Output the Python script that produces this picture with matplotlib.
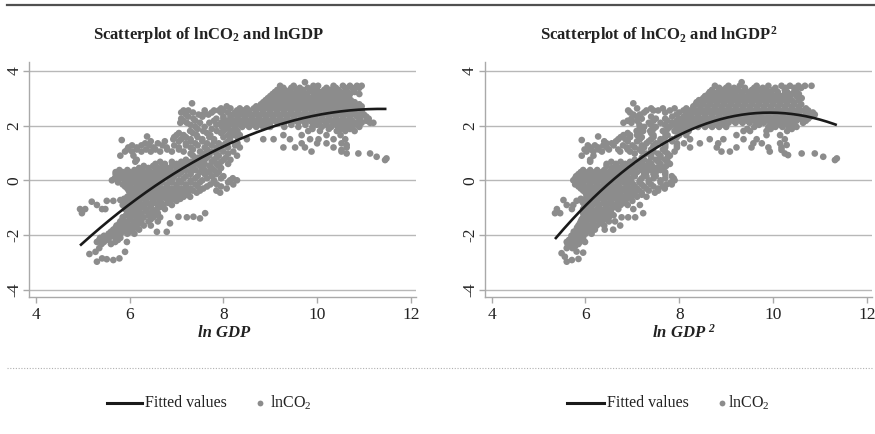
import matplotlib
matplotlib.use("Agg")
import matplotlib.pyplot as plt
from matplotlib.lines import Line2D
import numpy as np

plt.rcParams['font.family'] = ['Liberation Serif', 'DejaVu Serif']
plt.rcParams['axes.unicode_minus'] = False

# ---------------------------------------------------------------------------
# Observations: lnCO2 bands and the lnGDP positions of the points in each band
# ---------------------------------------------------------------------------
co2_levels = [3.45, 3.30, 3.15, 3.00, 2.85, 2.70, 2.55, 2.40, 2.25, 2.10, 1.95,
              1.80, 1.65, 1.50, 1.35, 1.20, 1.05, 0.90, 0.75, 0.60, 0.45, 0.30,
              0.15, 0.00, -0.15, -0.30, -0.45, -0.60, -0.75, -0.90, -1.05,
              -1.20, -1.35, -1.50, -1.65, -1.80, -1.95, -2.10, -2.25, -2.40]

gdp_left = [
    [9.21, 9.50, 9.92, 10.02, 10.35, 10.55, 10.70, 10.85, 10.95],
    [9.15, 9.30, 9.42, 9.56, 9.70, 9.85, 10.00, 10.15, 10.28, 10.45, 10.62, 10.78],
    [9.05, 9.18, 9.33, 9.47, 9.62, 9.78, 9.95, 10.10, 10.25, 10.40, 10.55, 10.70, 10.90],
    [8.95, 9.10, 9.25, 9.40, 9.55, 9.70, 9.85, 10.00, 10.15, 10.30, 10.45, 10.60],
    [8.85, 9.00, 9.15, 9.30, 9.45, 9.60, 9.75, 9.90, 10.05, 10.20, 10.35, 10.50, 10.65, 10.80],
    [8.07, 8.70, 8.85, 9.00, 9.15, 9.30, 9.45, 9.60, 9.75, 9.90, 10.05, 10.20, 10.35, 10.50,
     10.65, 10.80, 10.95],
    [7.15, 7.25, 7.60, 7.80, 7.90, 8.00, 8.29, 8.43, 8.55, 8.70, 8.85, 9.00, 9.15, 9.30, 9.45,
     9.60, 9.75, 9.90, 10.05, 10.20, 10.35, 10.50, 10.65, 10.80, 10.95],
    [7.20, 7.47, 7.57, 7.68, 8.21, 8.35, 8.50, 8.65, 8.80, 8.95, 9.10, 9.25, 9.40, 9.55, 9.70,
     9.85, 10.00, 10.15, 10.30, 10.45, 10.60, 10.75, 10.90, 11.00],
    [7.10, 7.36, 7.85, 8.00, 8.15, 8.30, 8.45, 8.60, 8.75, 8.90, 9.05, 9.20, 9.35, 9.50, 9.65,
     9.80, 9.95, 10.10, 10.25, 10.40, 10.55, 10.70, 10.92, 11.10],
    [7.08, 7.22, 7.50, 7.70, 7.95, 8.10, 8.25, 8.40, 8.55, 8.70, 8.85, 9.00, 9.15, 9.30, 9.45,
     9.60, 9.75, 9.90, 10.05, 10.20, 10.35, 10.50, 10.65, 10.80, 10.95, 11.13, 11.20],
    [7.40, 7.60, 7.97, 8.10, 8.25, 8.40, 8.55, 8.70, 8.85, 9.00, 9.30, 9.60, 9.90, 10.10, 10.30,
     10.45, 10.60, 10.75, 10.90],
    [7.29, 7.57, 7.86, 8.00, 8.15, 8.30, 9.81, 10.06, 10.42, 10.60, 10.80],
    [7.00, 7.15, 7.43, 7.72, 8.10, 8.20, 8.35, 9.28, 9.67, 10.20, 10.50],
    [6.93, 7.10, 7.30, 7.55, 7.80, 8.14, 8.50, 8.85, 9.07, 9.42, 9.85, 10.03, 10.35, 10.60],
    [6.33, 6.60, 7.20, 7.40, 7.65, 7.90, 8.05, 8.30, 9.67, 10.00, 10.20, 10.52],
    [5.97, 6.15, 6.51, 6.79, 7.05, 7.30, 7.60, 7.85, 8.10, 8.35, 9.28, 9.53, 9.74, 10.35, 10.63],
    [5.90, 6.05, 6.25, 6.45, 6.65, 6.90, 7.15, 7.50, 7.75, 8.00, 8.21, 9.88, 10.52],
    [5.80, 6.08, 7.35, 7.55, 7.70, 7.90, 8.29],
    [6.15, 7.20, 7.40, 7.60, 7.80, 8.00, 8.15],
    [6.55, 6.75, 7.00, 7.20, 7.40, 7.60, 7.85, 8.10],
    [6.20, 6.40, 6.60, 6.80, 7.00, 7.15, 7.35, 7.55, 7.75, 7.95],
    [5.70, 5.85, 6.00, 6.15, 6.30, 6.45, 6.60, 6.75, 6.90, 7.10, 7.30, 7.50, 7.70, 7.90],
    [5.75, 5.90, 6.05, 6.20, 6.35, 6.50, 6.65, 6.80, 6.95, 7.20, 7.45, 7.75, 8.00],
    [5.62, 5.75, 5.90, 6.05, 6.20, 6.35, 6.50, 6.65, 6.85, 7.05, 7.30, 7.55, 7.80, 8.14, 8.29],
    [5.85, 6.00, 6.15, 6.30, 6.45, 6.60, 6.80, 7.00, 7.20, 7.40, 7.72, 7.86, 8.21],
    [5.95, 6.10, 6.25, 6.40, 6.55, 6.70, 6.90, 7.10, 7.30, 7.57, 8.07],
    [6.00, 6.15, 6.30, 6.45, 6.60, 6.75, 6.90, 7.05, 7.25, 7.43, 7.93],
    [5.95, 6.10, 6.25, 6.40, 6.55, 6.70, 6.85, 7.00, 7.15, 7.29],
    [5.51, 5.65, 5.90, 6.05, 6.20, 6.35, 6.50, 6.65, 6.86, 7.00],
    [5.30, 5.85, 6.00, 6.15, 6.30, 6.45, 6.60, 6.72, 6.90],
    [4.94, 5.05, 5.41, 5.48, 5.90, 6.05, 6.20, 6.35, 6.58, 6.75],
    [4.98, 5.95, 6.10, 6.25, 6.44, 6.60],
    [5.85, 6.00, 6.15, 6.30, 6.50, 6.65],
    [5.80, 5.95, 6.10, 6.25, 6.40, 6.60],
    [5.72, 5.85, 6.00, 6.15, 6.30, 6.45],
    [5.65, 5.78, 5.90, 6.05, 6.20],
    [5.55, 5.68, 5.80, 5.95, 6.10],
    [5.37, 5.51, 5.69, 5.80],
    [5.30, 5.45, 5.69, 5.94],
    [],
]

gdp_right = [
    [8.76, 9.05, 9.29, 9.65, 9.90, 10.18, 10.36, 10.54, 10.68, 10.82],
    [8.70, 8.94, 9.10, 9.25, 9.40, 9.55, 9.70, 9.85, 10.00, 10.25, 10.50],
    [8.62, 8.76, 8.90, 9.05, 9.20, 9.35, 9.50, 9.65, 9.80, 9.95, 10.10, 10.25, 10.40, 10.55],
    [8.51, 8.65, 8.80, 8.95, 9.10, 9.25, 9.40, 9.55, 9.70, 9.85, 10.00, 10.15, 10.30, 10.61],
    [8.37, 8.50, 8.65, 8.80, 8.95, 9.10, 9.25, 9.40, 9.55, 9.70, 9.85, 10.00, 10.15, 10.30, 10.45],
    [8.30, 8.45, 8.60, 8.75, 8.90, 9.05, 9.20, 9.35, 9.50, 9.65, 9.80, 9.95, 10.10, 10.25,
     10.40, 10.55],
    [6.91, 7.30, 7.45, 7.55, 7.80, 8.09, 8.20, 8.35, 8.50, 8.65, 8.80, 8.95, 9.10, 9.25, 9.40,
     9.55, 9.70, 9.85, 10.00, 10.15, 10.30, 10.45, 10.60, 10.75],
    [7.02, 7.16, 7.94, 8.16, 8.26, 8.40, 8.55, 8.70, 8.85, 9.00, 9.15, 9.30, 9.45, 9.60, 9.75,
     9.90, 10.05, 10.20, 10.35, 10.50, 10.72, 10.89],
    [6.98, 7.20, 7.50, 7.70, 8.00, 8.15, 8.30, 8.45, 8.60, 8.75, 8.90, 9.05, 9.20, 9.35, 9.50,
     9.65, 9.80, 9.95, 10.10, 10.25, 10.40, 10.57, 10.75],
    [6.81, 6.98, 7.35, 7.60, 7.85, 8.00, 8.15, 8.30, 8.45, 8.60, 8.75, 8.90, 9.05, 9.20, 9.35,
     9.50, 9.65, 9.80, 9.95, 10.10, 10.25, 10.40, 10.64],
    [7.25, 7.50, 7.80, 7.95, 8.10, 8.25, 8.40, 8.55, 8.70, 8.85, 9.00, 9.60, 9.90, 10.05, 10.20,
     10.35, 10.50],
    [7.09, 7.23, 7.38, 7.65, 7.90, 8.05, 8.20, 9.37, 9.51, 9.86, 10.30],
    [6.81, 6.95, 7.10, 7.45, 7.75, 8.00, 8.15, 9.22, 9.86, 10.15],
    [6.70, 6.85, 7.16, 7.40, 7.60, 7.85, 8.23, 8.65, 8.94, 9.37, 9.65, 10.25],
    [6.45, 6.56, 7.30, 7.50, 7.70, 7.95, 8.10, 8.44, 8.83, 9.58, 9.76, 10.15],
    [6.10, 6.27, 6.45, 6.88, 7.05, 7.25, 7.45, 7.70, 7.95, 8.23, 8.80, 9.22, 9.54, 9.90, 10.18],
    [6.02, 6.17, 6.35, 6.74, 6.95, 7.20, 7.45, 7.70, 7.90, 8.90, 9.08, 9.93],
    [5.92, 6.17, 7.40, 7.60, 7.80],
    [6.10, 7.05, 7.25, 7.50, 7.70],
    [6.45, 6.65, 6.85, 7.00, 7.20, 7.40, 7.60, 7.80],
    [6.56, 6.74, 6.90, 7.05, 7.20, 7.35, 7.50, 7.66],
    [5.90, 6.05, 6.20, 6.35, 6.50, 6.65, 6.80, 6.95, 7.10, 7.30, 7.50, 7.70],
    [5.80, 5.95, 6.10, 6.27, 6.40, 6.55, 6.70, 6.88, 7.05, 7.30, 7.50, 7.84],
    [5.74, 5.88, 6.02, 6.16, 6.30, 6.45, 6.60, 6.74, 6.90, 7.16, 7.35, 7.60, 7.90],
    [5.78, 5.92, 6.10, 6.25, 6.40, 6.55, 6.70, 6.88, 7.02, 7.20, 7.40, 7.73, 7.84],
    [5.90, 6.05, 6.20, 6.35, 6.50, 6.65, 6.80, 6.95, 7.10, 7.30, 7.55, 7.69],
    [6.00, 6.15, 6.30, 6.45, 6.60, 6.74, 6.90, 7.05, 7.20, 7.48],
    [6.05, 6.20, 6.35, 6.50, 6.65, 6.80, 6.95, 7.10, 7.30],
    [5.81, 5.92, 6.10, 6.25, 6.40, 6.55, 6.70, 6.85, 7.00],
    [5.60, 5.74, 6.00, 6.15, 6.30, 6.45, 6.60, 6.75, 6.90, 7.16],
    [5.39, 5.71, 5.95, 6.10, 6.25, 6.40, 6.55, 6.70, 7.02],
    [5.35, 5.46, 5.95, 6.10, 6.25, 6.40, 6.55, 7.23],
    [5.95, 6.05, 6.20, 6.35, 6.50, 6.77, 6.91, 7.06],
    [5.90, 6.02, 6.17, 6.35, 6.50, 6.63],
    [5.85, 5.95, 6.10, 6.24, 6.40, 6.74],
    [5.81, 5.90, 6.05, 6.20, 6.41, 6.59],
    [5.75, 5.85, 6.00, 6.13],
    [5.71, 5.80, 5.95],
    [5.60, 5.78, 5.88, 5.99],
    [5.63, 5.78],
]

# Observations lying between the bands above
fill_levels = [3.375, 3.225, 3.075, 2.925, 2.775, 2.625, 2.475, 2.325, 2.175, 2.025,
               1.875, 1.725, 1.575, 1.425, 1.275, 1.125, 0.975, 0.825, 0.675, 0.525,
               0.375, 0.225, 0.075, -0.075, -0.225, -0.375, -0.525, -0.675, -0.825,
               -0.975, -1.125, -1.275, -1.425, -1.575, -1.725, -1.875, -2.025, -2.175,
               -2.325, -2.475]

fill_left = [
    [9.28, 9.45, 9.63, 9.80, 9.98, 10.20, 10.40, 10.60, 10.75, 10.90],
    [9.10, 9.25, 9.40, 9.55, 9.70, 9.90, 10.05, 10.20, 10.35, 10.50, 10.65, 10.80],
    [9.00, 9.15, 9.30, 9.45, 9.60, 9.75, 9.92, 10.08, 10.22, 10.38, 10.52, 10.68],
    [8.90, 9.05, 9.20, 9.35, 9.50, 9.65, 9.80, 9.95, 10.10, 10.25, 10.40, 10.55, 10.72],
    [8.80, 8.95, 9.10, 9.25, 9.40, 9.55, 9.70, 9.85, 10.00, 10.15, 10.30, 10.45, 10.60,
     10.75, 10.90],
    [7.95, 8.15, 8.35, 8.50, 8.65, 8.80, 8.95, 9.10, 9.25, 9.40, 9.55, 9.70, 9.85, 10.00,
     10.15, 10.30, 10.45, 10.60, 10.75, 10.90],
    [7.10, 7.35, 7.75, 7.95, 8.10, 8.25, 8.40, 8.55, 8.70, 8.85, 9.00, 9.15, 9.30, 9.45,
     9.60, 9.75, 9.90, 10.05, 10.20, 10.35, 10.50, 10.65, 10.80, 10.95],
    [7.25, 7.55, 8.00, 8.15, 8.30, 8.45, 8.60, 8.75, 8.90, 9.05, 9.20, 9.35, 9.50, 9.65,
     9.80, 9.95, 10.10, 10.25, 10.40, 10.55, 10.70, 10.85, 11.05],
    [7.15, 7.40, 7.80, 8.05, 8.20, 8.35, 8.50, 8.65, 8.80, 8.95, 9.10, 9.25, 9.40, 9.55,
     9.70, 9.85, 10.00, 10.15, 10.30, 10.45, 10.60, 10.75, 10.90, 11.05],
    [7.30, 7.85, 8.05, 8.20, 8.35, 8.50, 8.65, 8.80, 8.95, 9.45, 9.75, 10.00, 10.20, 10.40,
     10.55, 10.70, 10.85],
    [7.45, 7.75, 8.05, 8.25, 9.90, 10.25, 10.50, 10.70],
    [7.05, 7.35, 7.65, 7.95, 8.25],
    [6.95, 7.20, 7.45, 7.70, 8.00, 8.30],
    [6.45, 6.75, 7.05, 7.30, 7.55, 7.80, 8.10],
    [6.05, 6.25, 6.42, 6.70, 6.95, 7.20, 7.45, 7.75, 8.00, 8.25],
    [5.95, 6.15, 6.35, 6.55, 6.80, 7.05, 7.35, 7.65, 7.95],
    [7.30, 7.60, 7.85, 8.10],
    [7.45, 7.65, 7.85, 8.05],
    [6.65, 6.90, 7.10, 7.30, 7.50, 7.75, 7.95],
    [6.30, 6.50, 6.70, 6.90, 7.10, 7.30, 7.50, 7.70, 7.90],
    [5.78, 5.95, 6.10, 6.25, 6.40, 6.55, 6.70, 6.85, 7.00, 7.20, 7.40, 7.60, 7.80],
    [5.70, 5.82, 5.98, 6.12, 6.28, 6.42, 6.58, 6.72, 6.88, 7.05, 7.30, 7.60, 7.85],
    [5.68, 5.82, 5.98, 6.12, 6.28, 6.42, 6.58, 6.72, 6.92, 7.15, 7.40, 7.65, 7.95, 8.20],
    [5.75, 5.92, 6.08, 6.22, 6.38, 6.52, 6.70, 6.90, 7.10, 7.30, 7.50, 7.80, 8.10],
    [5.90, 6.02, 6.18, 6.32, 6.48, 6.62, 6.80, 7.00, 7.20, 7.45, 7.65, 7.95],
    [5.98, 6.08, 6.22, 6.38, 6.52, 6.68, 6.82, 7.00, 7.18, 7.35, 7.50, 7.85],
    [6.05, 6.20, 6.35, 6.50, 6.65, 6.80, 6.95, 7.10, 7.22],
    [5.88, 6.02, 6.18, 6.32, 6.48, 6.62, 6.78, 6.92, 7.08],
    [5.92, 6.08, 6.22, 6.38, 6.52, 6.68, 6.82],
    [5.95, 6.12, 6.28, 6.45, 6.65],
    [6.00, 6.18, 6.35, 6.52],
    [5.92, 6.08, 6.22, 6.40, 6.58],
    [5.85, 6.02, 6.20, 6.45],
    [5.78, 5.92, 6.08, 6.22],
    [5.70, 5.82, 5.98, 6.12],
    [5.60, 5.72, 5.85, 6.00],
    [5.45, 5.60, 5.75],
    [5.35, 5.55, 5.75],
    [5.40, 5.60],
    [5.35],
]

fill_right = [
    [8.85, 9.00, 9.17, 9.40, 9.60, 9.78, 10.05, 10.27, 10.45, 10.60],
    [8.65, 8.82, 8.98, 9.15, 9.32, 9.48, 9.62, 9.78, 9.92, 10.10, 10.30, 10.45],
    [8.55, 8.70, 8.85, 9.00, 9.15, 9.30, 9.45, 9.60, 9.75, 9.90, 10.05, 10.20, 10.35, 10.50],
    [8.42, 8.58, 8.72, 8.88, 9.02, 9.18, 9.32, 9.48, 9.62, 9.78, 9.92, 10.08, 10.22, 10.40,
     10.55],
    [8.35, 8.50, 8.65, 8.80, 8.95, 9.10, 9.25, 9.40, 9.55, 9.70, 9.85, 10.00, 10.15, 10.30,
     10.45, 10.60],
    [7.10, 7.40, 7.65, 7.90, 8.15, 8.30, 8.45, 8.60, 8.75, 8.90, 9.05, 9.20, 9.35, 9.50,
     9.65, 9.80, 9.95, 10.10, 10.25, 10.40, 10.55, 10.70],
    [6.95, 7.25, 7.70, 8.00, 8.15, 8.30, 8.45, 8.60, 8.75, 8.90, 9.05, 9.20, 9.35, 9.50,
     9.65, 9.80, 9.95, 10.10, 10.25, 10.40, 10.55, 10.70, 10.85],
    [7.10, 7.40, 7.85, 8.10, 8.25, 8.40, 8.55, 8.70, 8.85, 9.00, 9.15, 9.30, 9.45, 9.60,
     9.75, 9.90, 10.05, 10.20, 10.35, 10.50, 10.65, 10.80],
    [6.90, 7.10, 7.45, 7.75, 7.95, 8.10, 8.25, 8.40, 8.55, 8.70, 8.85, 9.00, 9.15, 9.30,
     9.45, 9.60, 9.75, 9.90, 10.05, 10.20, 10.35, 10.50, 10.70],
    [7.15, 7.40, 7.70, 7.90, 8.05, 8.20, 8.35, 8.50, 8.65, 8.80, 8.95, 9.70, 10.00, 10.15,
     10.30, 10.45],
    [7.15, 7.45, 7.75, 8.00, 8.15, 9.45, 9.95, 10.40],
    [6.90, 7.15, 7.40, 7.70, 8.00],
    [6.75, 6.95, 7.20, 7.45, 7.70, 7.95],
    [6.40, 6.65, 6.90, 7.10, 7.35, 7.60, 7.85],
    [6.05, 6.20, 6.38, 6.60, 6.80, 7.00, 7.20, 7.45, 7.70, 7.95],
    [5.98, 6.12, 6.28, 6.50, 6.70, 6.90, 7.15, 7.40, 7.65],
    [7.05, 7.30, 7.55, 7.75],
    [7.20, 7.40, 7.60, 7.75],
    [6.55, 6.75, 6.95, 7.15, 7.35, 7.55, 7.75],
    [6.45, 6.65, 6.82, 6.98, 7.12, 7.28, 7.42, 7.58, 7.72],
    [5.95, 6.10, 6.25, 6.40, 6.55, 6.70, 6.85, 7.00, 7.20, 7.40, 7.60],
    [5.85, 5.98, 6.12, 6.28, 6.42, 6.58, 6.72, 6.88, 7.05, 7.25, 7.45, 7.70],
    [5.78, 5.92, 6.06, 6.20, 6.35, 6.50, 6.65, 6.80, 6.98, 7.20, 7.45, 7.70, 7.88],
    [5.80, 5.95, 6.08, 6.22, 6.38, 6.52, 6.68, 6.82, 6.98, 7.15, 7.35, 7.60, 7.82],
    [5.85, 5.98, 6.12, 6.28, 6.42, 6.58, 6.72, 6.88, 7.05, 7.25, 7.45, 7.65],
    [5.95, 6.08, 6.22, 6.38, 6.52, 6.68, 6.82, 6.98, 7.15, 7.35, 7.55],
    [6.02, 6.15, 6.28, 6.42, 6.58, 6.72, 6.88, 7.02, 7.20],
    [5.90, 6.00, 6.12, 6.28, 6.42, 6.58, 6.72, 6.88],
    [5.95, 6.08, 6.22, 6.38, 6.52, 6.68, 6.82],
    [5.98, 6.12, 6.28, 6.45, 6.62],
    [6.00, 6.15, 6.32, 6.48],
    [5.98, 6.12, 6.28, 6.45, 6.60],
    [5.92, 6.08, 6.25, 6.42],
    [5.88, 6.00, 6.15, 6.30],
    [5.82, 5.92, 6.05, 6.18],
    [5.75, 5.85, 5.98, 6.10],
    [5.70, 5.80, 5.92],
    [5.65, 5.75, 5.88],
    [5.62, 5.72, 5.85],
    [5.60, 5.72],
]

# Isolated observations outside the dense bands
left_extra_gdp = [9.74, 7.33, 6.37, 5.83, 5.19, 5.80, 7.61, 7.04, 7.22, 7.36, 7.50,
                  6.58, 6.79, 6.86, 5.14, 5.27, 5.90, 5.30, 5.51, 5.65, 5.78, 5.41,
                  6.12, 10.63, 10.88, 11.13, 11.27, 11.45, 11.48, 10.52, 10.63]
left_extra_co2 = [3.58, 2.81, 1.60, 1.47, -0.78, -0.72, -1.20, -1.33, -1.35, -1.33, -1.39,
                  -1.88, -1.88, -1.57, -2.69, -2.61, -2.61, -2.97, -2.88, -2.91, -2.85, -2.85,
                  0.68, 0.98, 0.98, 0.98, 0.86, 0.74, 0.80, 1.11, 1.29]

right_extra_gdp = [9.33, 7.02, 6.27, 5.92, 5.53, 5.49, 5.60, 5.71, 5.85, 5.95, 5.56,
                   5.81, 6.10, 10.25, 10.61, 10.89, 11.07, 11.32, 11.36, 10.29, 10.18, 10.32]
right_extra_co2 = [3.58, 2.81, 1.60, 1.47, -0.72, -2.66, -2.97, -2.91, -2.87, -2.64, -2.79,
                   -2.60, 0.68, 0.98, 0.98, 0.98, 0.86, 0.74, 0.80, 1.29, 1.11, 0.92]

# Quadratic fit coefficients (constant, linear, squared term)
fit_left = [-12.98, 2.741, -0.1205]
fit_right = [-19.24, 4.375, -0.2204]

x_ticks = [4, 6, 8, 10, 12]
y_ticks = [-4, -2, 0, 2, 4]


def collect(groups, ex_x, ex_y):
    xs, ys = [], []
    for levels, rows in groups:
        for lev, row in zip(levels, rows):
            xs.extend(row)
            ys.extend([lev] * len(row))
    xs.extend(ex_x)
    ys.extend(ex_y)
    return np.array(xs), np.array(ys)


left_x, left_y = collect([(co2_levels, gdp_left), (fill_levels, fill_left)],
                         left_extra_gdp, left_extra_co2)
right_x, right_y = collect([(co2_levels, gdp_right), (fill_levels, fill_right)],
                           right_extra_gdp, right_extra_co2)

W, H = 875, 434
fig = plt.figure(figsize=(W / 100, H / 100), dpi=100)


def fx(px):
    return px / W


def fy(py):
    return 1 - py / H


DOT = '#8c8c8c'
LINE = '#1a1a1a'
AXC = '#a9a9a9'
TXT = '#222222'


def panel(left_px, right_px, xs, ys, coef, title, xlabel, title_cx, xlabel_cx):
    ax = fig.add_axes([fx(left_px), fy(297.3), fx(right_px - left_px), (297.3 - 61.7) / H])
    ax.scatter(xs, ys, s=23, color=DOT, edgecolors='none', zorder=2)
    gx = np.linspace(xs.min(), xs.max(), 200)
    gy = coef[0] + coef[1] * gx + coef[2] * gx ** 2
    ax.plot(gx, gy, color=LINE, lw=1.9, zorder=3, solid_capstyle='butt')
    ax.set_xlim(3.857, 12.11)
    ax.set_ylim(-4.27, 4.33)
    ax.set_xticks(x_ticks)
    ax.set_yticks(y_ticks)
    ax.set_yticklabels([str(v) for v in y_ticks], rotation=90, va='center')
    ax.yaxis.grid(True, color='#b8b8b8', lw=1.0, zorder=0)
    ax.set_axisbelow(True)
    for s in ['top', 'right']:
        ax.spines[s].set_visible(False)
    for s in ['left', 'bottom']:
        ax.spines[s].set_color(AXC)
        ax.spines[s].set_linewidth(1.0)
    ax.tick_params(axis='both', colors=AXC, length=4, width=1.0, direction='out',
                   labelcolor=TXT, labelsize=12.5)
    ax.tick_params(axis='x', pad=3)
    ax.tick_params(axis='y', pad=1)
    fig.text(fx(title_cx), fy(35), title, ha='center', va='center', fontsize=12,
             fontweight='bold', color=TXT)
    fig.text(fx(xlabel_cx), fy(333), xlabel, ha='center', va='center', fontsize=12,
             fontweight='bold', fontstyle='italic', color=TXT)
    return ax


panel(29.3, 416, left_x, left_y, fit_left,
      r'Scatterplot of lnCO$\mathregular{_2}$ and lnGDP', 'ln GDP', 209, 224)
panel(485, 872, right_x, right_y, fit_right,
      r'Scatterplot of lnCO$\mathregular{_2}$ and lnGDP$\mathregular{^2}$',
      r'ln GDP $\mathregular{^2}$', 659, 684)

# Rules across the figure
fig.add_artist(Line2D([fx(7), fx(875)], [fy(5), fy(5)], color='#505050', lw=1.6))
fig.add_artist(Line2D([fx(7), fx(873)], [fy(368), fy(368)], color='#b0b0b0', lw=0.8,
                      linestyle=(0, (1, 1.5))))

# Legends under each panel
for lx0, lx1, tx, mx, tx2 in [(107, 142, 145, 260, 270), (567, 604, 607, 722, 728)]:
    fig.add_artist(Line2D([fx(lx0), fx(lx1)], [fy(403), fy(403)], color=LINE, lw=2.2))
    fig.text(fx(tx), fy(403), 'Fitted values', ha='left', va='center', fontsize=11.5,
             color=TXT)
    fig.add_artist(Line2D([fx(mx)], [fy(403)], marker='o', color=DOT, markersize=4.2,
                          markeredgewidth=0, linestyle='none'))
    fig.text(fx(tx2), fy(403), r'lnCO$\mathregular{_2}$', ha='left', va='center',
             fontsize=11.5, color=TXT)

fig.savefig('out.png', dpi=100, facecolor='white')
